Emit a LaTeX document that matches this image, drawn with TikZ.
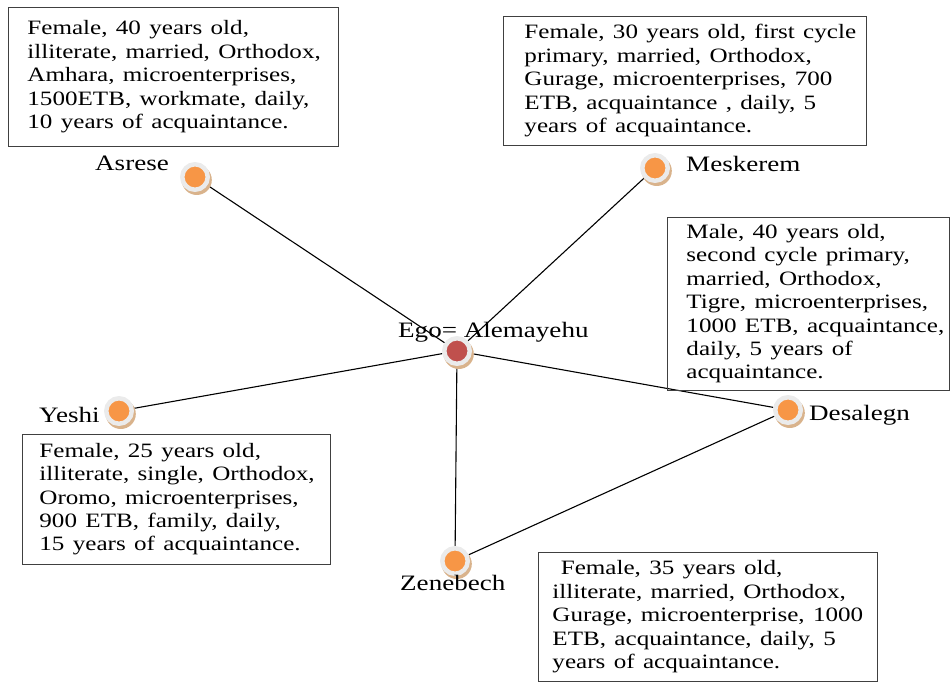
\documentclass[tikz,border=0pt]{standalone}
\usepackage{fontspec}
\setmainfont{Liberation Serif}
\usetikzlibrary{shadows,backgrounds}

\definecolor{dotorange}{HTML}{F79646}
\definecolor{egored}{HTML}{C0504D}
\definecolor{ringgray}{HTML}{EBEBEB}
\definecolor{shadowtan}{HTML}{D9B38C}
\definecolor{boxline}{HTML}{404040}

% text in this figure is set slightly widened
\newcommand\widetext[1]{\scalebox{1.23}[1]{#1}}
\newcommand\infolines[1]{\widetext{\begin{tabular}{@{}l@{}}#1\end{tabular}}}

\tikzset{
  person/.style={circle, inner sep=0pt, minimum size=25.5pt, line width=4.5pt,
    draw=ringgray, fill=dotorange,
    drop shadow={shadow xshift=1.5pt, shadow yshift=-2.5pt, shadow scale=1.18,
      fill=shadowtan, opacity=1}},
  egoperson/.style={person, fill=egored},
  personname/.style={anchor=base west, inner sep=0pt,
    font=\fontsize{22}{25}\selectfont},
  info/.style={draw=boxline, line width=0.9pt, anchor=north west, inner ysep=0pt,
    align=left, font=\fontsize{20.4}{23.4}\selectfont},
  tie/.style={line width=1.1pt, black},
}

\begin{document}
\begin{tikzpicture}[x=1pt, y=-1pt]
\useasboundingbox (0,0) rectangle (950,682);

% egocentric network: ego and alters
\node[egoperson] (ego)      at (457,351) {};
\node[person]    (asrese)   at (195,177) {};
\node[person]    (meskerem) at (655,168) {};
\node[person]    (yeshi)    at (119,411) {};
\node[person]    (desalegn) at (788,410) {};
\node[person]    (zenebech) at (455,561) {};

\node[personname] (egoname)      at (398,337) {\widetext{Ego= Alemayehu}};
\node[personname] (asresename)   at (95,170)  {\widetext{Asrese}};
\node[personname] (meskeremname) at (686,171) {\widetext{Meskerem}};
\node[personname] (yeshiname)    at (39,422)  {\widetext{Yeshi}};
\node[personname] (desalegnname) at (809,420) {\widetext{Desalegn}};
\node[personname] (zenebechname) at (400,590) {\widetext{Zenebech}};

% ties
\begin{scope}[on background layer]
  \draw[tie] (asrese) -- (ego);
  \draw[tie] (meskerem) -- (ego);
  \draw[tie] (yeshi) -- (ego);
  \draw[tie] (ego) -- (desalegn);
  \draw[tie] (ego) -- (zenebech);
  \draw[tie] (desalegn) -- (zenebech);
\end{scope}

% attribute boxes
\node[info, inner xsep=19pt, text width=292pt, minimum height=139pt] (infoasrese) at (8,7)
  {\infolines{Female, 40 years old,\\ illiterate, married, Orthodox,\\ Amhara, microenterprises,\\ 1500ETB, workmate, daily,\\ 10 years of acquaintance.}};

\node[info, inner xsep=21pt, text width=321pt, minimum height=129pt] (infomeskerem) at (503,16)
  {\infolines{Female, 30 years old, first cycle\\ primary, married, Orthodox,\\ Gurage, microenterprises, 700\\ ETB, acquaintance , daily, 5\\ years of acquaintance.}};

\node[info, inner xsep=19pt, text width=244pt, minimum height=173pt] (infodesalegn) at (667,217)
  {\infolines{Male, 40 years old,\\ second cycle primary,\\ married, Orthodox,\\ Tigre, microenterprises,\\ 1000 ETB, acquaintance,\\ daily, 5 years of\\ acquaintance.}};

\node[info, inner xsep=17pt, text width=274pt, minimum height=130pt] (infoyeshi) at (22,434)
  {\infolines{Female, 25 years old,\\ illiterate, single, Orthodox,\\ Oromo, microenterprises,\\ 900 ETB, family, daily,\\ 15 years of acquaintance.}};

\node[info, inner xsep=14pt, text width=311pt, minimum height=129pt] (infozenebech) at (538,552)
  {\infolines{\ Female, 35 years old,\\ illiterate, married, Orthodox,\\ Gurage, microenterprise, 1000\\ ETB, acquaintance, daily, 5\\ years of acquaintance.}};
\end{tikzpicture}
\end{document}
